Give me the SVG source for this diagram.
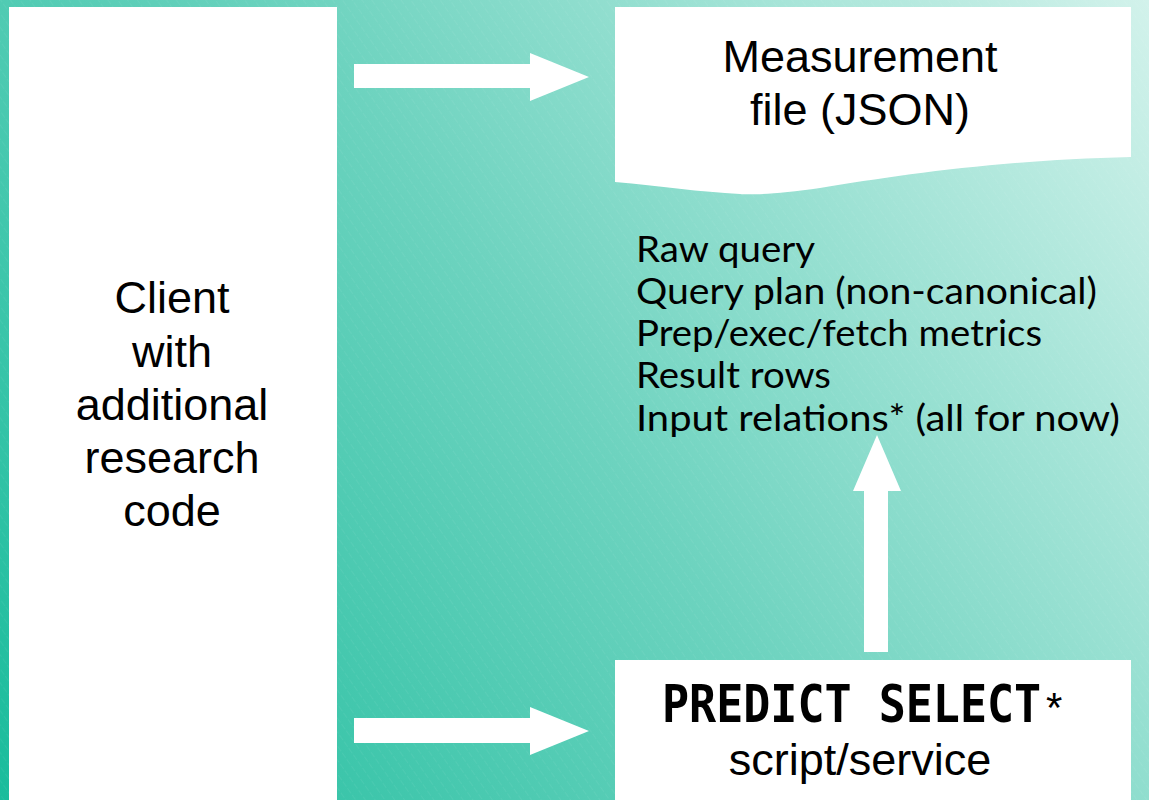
<svg xmlns="http://www.w3.org/2000/svg" width="1149" height="800" viewBox="0 0 1149 800">
  <defs>
    <linearGradient id="bg" x1="0" y1="800" x2="1149" y2="0" gradientUnits="userSpaceOnUse">
      <stop offset="0" stop-color="#1abc9c"/>
      <stop offset="0.5" stop-color="#6dd3bf"/>
      <stop offset="1" stop-color="#d2f2eb"/>
    </linearGradient>
    <pattern id="hatch" width="8" height="8" patternUnits="userSpaceOnUse" patternTransform="rotate(-35)">
      <line x1="0" y1="0" x2="0" y2="8" stroke="#ffffff" stroke-width="0.6" stroke-opacity="0.18" stroke-dasharray="3 2"/>
    </pattern>
    <style>
      .box { fill: #ffffff; }
      .arrow { fill: #ffffff; }
      .sans { font-family: "Liberation Sans", Arial, sans-serif; fill: #000000; }
      .big { font-size: 45px; text-anchor: middle; }
      .list { font-family: Lato, "Noto Sans", sans-serif; font-size: 36px; fill: #000000; }
      .mono { font-family: "DejaVu Sans Mono", "Liberation Mono", monospace; font-weight: bold; fill: #000000; }
    </style>
  </defs>
  <rect x="0" y="0" width="1149" height="800" fill="url(#bg)"/>
  <rect x="0" y="0" width="1149" height="800" fill="url(#hatch)"/>

  <g id="client">
    <rect class="box" x="9" y="7" width="328" height="800"/>
    <text class="sans big" font-size="46" x="172" y="313">Client</text>
    <text class="sans big" font-size="46" x="172" y="367">with</text>
    <text class="sans big" font-size="46" x="172" y="420">additional</text>
    <text class="sans big" font-size="46" x="172" y="473">research</text>
    <text class="sans big" font-size="46" x="172" y="526">code</text>
  </g>

  <g id="measurement">
    <path class="box" d="M615,7 H1131 V157 C1000,160 900,175 820,188 C780,194 750,195 740,194 C700,192 660,186 615,182 Z"/>
    <text class="sans big" x="860" y="72">Measurement</text>
    <text class="sans big" x="860" y="125">file (JSON)</text>
  </g>

  <g id="contents">
    <text class="list" x="636" y="262" textLength="179" lengthAdjust="spacingAndGlyphs">Raw query</text>
    <text class="list" x="636" y="304" textLength="461" lengthAdjust="spacingAndGlyphs">Query plan (non-canonical)</text>
    <text class="list" x="636" y="346" textLength="406" lengthAdjust="spacingAndGlyphs">Prep/exec/fetch metrics</text>
    <text class="list" x="636" y="388" textLength="195" lengthAdjust="spacingAndGlyphs">Result rows</text>
    <text class="list" x="636" y="431" textLength="484" lengthAdjust="spacingAndGlyphs">Input relations*  (all for now)</text>
  </g>

  <g id="predict">
    <rect class="box" x="615" y="660" width="516" height="150"/>
    <text class="mono" font-size="45" transform="translate(662,722) scale(1,1.16)" x="0" y="0">PREDICT SELECT</text>
    <text class="sans" font-size="42" x="1046" y="722">*</text>
    <text class="sans big" x="860" y="775">script/service</text>
  </g>

  <g id="connectors">
    <polygon class="arrow" points="354,64 530,64 530,53 589,77 530,101 530,88 354,88"/>
    <polygon class="arrow" points="354,718 530,718 530,707 589,731 530,755 530,743 354,743"/>
    <polygon class="arrow" points="864,652 864,491 853,491 877,435 901,491 888,491 888,652"/>
  </g>
</svg>
